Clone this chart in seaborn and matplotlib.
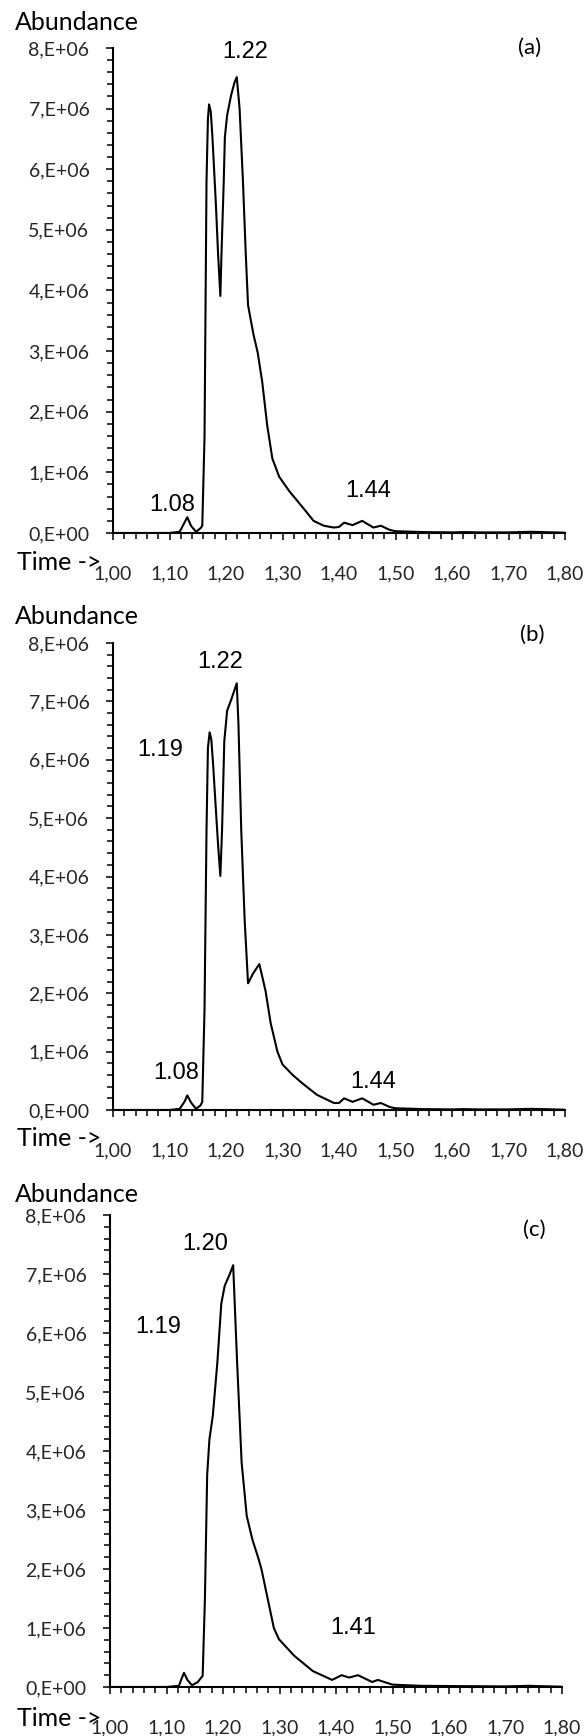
import matplotlib
matplotlib.use("Agg")
import matplotlib.pyplot as plt
import seaborn as sns
import numpy as np
import pandas as pd
from matplotlib.ticker import MultipleLocator, FixedLocator, FuncFormatter

# --- data (abundance in units of 1E6) ---
time_a = [1.00, 1.05, 1.10, 1.118, 1.127, 1.1315, 1.138, 1.147, 1.155, 1.158,
          1.162, 1.1655, 1.168, 1.170, 1.173, 1.176, 1.182, 1.186, 1.190, 1.192,
          1.196, 1.198, 1.202, 1.209, 1.215, 1.219, 1.224, 1.230, 1.235, 1.239,
          1.2485, 1.256, 1.264, 1.273, 1.282, 1.294, 1.312, 1.336, 1.355, 1.373,
          1.391, 1.400, 1.409, 1.424, 1.441, 1.461, 1.474, 1.490, 1.50, 1.55,
          1.60, 1.62, 1.65, 1.70, 1.74, 1.80]
abund_a = [0.0, 0.0, 0.0, 0.02, 0.18, 0.26, 0.12, 0.02, 0.08, 0.12,
           1.59, 5.80, 6.83, 7.07, 6.95, 6.53, 5.44, 4.60, 3.91, 4.60,
           5.80, 6.53, 6.89, 7.22, 7.43, 7.52, 7.01, 5.80, 4.60, 3.76,
           3.28, 2.98, 2.50, 1.77, 1.23, 0.93, 0.69, 0.42, 0.20, 0.12,
           0.09, 0.10, 0.17, 0.13, 0.20, 0.09, 0.12, 0.05, 0.03, 0.015,
           0.01, 0.015, 0.01, 0.01, 0.02, 0.005]

time_b = [1.00, 1.05, 1.10, 1.118, 1.127, 1.1315, 1.138, 1.147, 1.155, 1.158,
          1.162, 1.1655, 1.168, 1.171, 1.174, 1.177, 1.182, 1.186, 1.190, 1.193,
          1.197, 1.202, 1.210, 1.219, 1.222, 1.227, 1.233, 1.239, 1.248, 1.259,
          1.270, 1.279, 1.291, 1.300, 1.318, 1.336, 1.361, 1.391, 1.400, 1.409,
          1.424, 1.441, 1.461, 1.474, 1.490, 1.50, 1.55, 1.60, 1.62, 1.65,
          1.70, 1.74, 1.80]
abund_b = [0.0, 0.0, 0.0, 0.02, 0.15, 0.25, 0.13, 0.02, 0.08, 0.14,
           1.73, 4.79, 6.20, 6.47, 6.35, 5.95, 5.16, 4.54, 4.01, 4.79,
           6.32, 6.84, 7.05, 7.31, 6.62, 4.79, 3.26, 2.17, 2.34, 2.50,
           2.04, 1.49, 1.00, 0.78, 0.60, 0.45, 0.26, 0.12, 0.12, 0.20,
           0.14, 0.20, 0.09, 0.12, 0.05, 0.03, 0.015, 0.01, 0.015, 0.01,
           0.01, 0.02, 0.005]

time_c = [1.00, 1.05, 1.10, 1.122, 1.127, 1.131, 1.137, 1.145, 1.155, 1.164,
          1.168, 1.172, 1.176, 1.182, 1.190, 1.197, 1.203, 1.212, 1.218, 1.225,
          1.233, 1.242, 1.252, 1.262, 1.268, 1.279, 1.290, 1.299, 1.326, 1.359,
          1.393, 1.410, 1.423, 1.439, 1.464, 1.474, 1.50, 1.55, 1.62, 1.70,
          1.74, 1.80]
abund_c = [0.0, 0.0, 0.0, 0.02, 0.15, 0.24, 0.12, 0.03, 0.08, 0.19,
           1.50, 3.60, 4.20, 4.60, 5.50, 6.50, 6.80, 7.00, 7.15, 5.50,
           3.80, 2.90, 2.50, 2.20, 2.00, 1.50, 1.00, 0.81, 0.53, 0.27,
           0.12, 0.20, 0.16, 0.20, 0.085, 0.12, 0.04, 0.02, 0.015, 0.01,
           0.02, 0.005]

# peak labels: (text, time, abundance in 1E6)
labels_a = [("1.22", 1.234, 7.94), ("1.08", 1.104, 0.46), ("1.44", 1.452, 0.70)]
labels_b = [("1.22", 1.19, 7.67), ("1.19", 1.084, 6.16), ("1.08", 1.112, 0.63), ("1.44", 1.46, 0.48)]
labels_c = [("1.20", 1.168, 7.50), ("1.19", 1.086, 6.10), ("1.41", 1.43, 1.0)]

panel_tags = ["(a)", "(b)", "(c)"]
x_ticks = [1.00, 1.10, 1.20, 1.30, 1.40, 1.50, 1.60, 1.70, 1.80]
y_ticks = [0, 1, 2, 3, 4, 5, 6, 7, 8]

sns.set_style("ticks")
plt.rcParams['font.family'] = ['Lato', 'DejaVu Sans']

W, H = 584, 1736
fig = plt.figure(figsize=(W / 100, H / 100), dpi=100)

# axes boxes in pixels: left, right, top, bottom
boxes = [(113, 565, 48, 533), (113, 565, 643, 1110), (110, 562, 1215, 1687)]
abundance_y = [22, 617, 1195]
time_y = [562, 1138, 1718]
tag_pos = [(530, 48), (532, 635), (534, 1230)]

series = [(time_a, abund_a, labels_a), (time_b, abund_b, labels_b), (time_c, abund_c, labels_c)]

for i, ((t, a, labs), (l, r, top, bot)) in enumerate(zip(series, boxes)):
    ax = fig.add_axes([l / W, 1 - bot / H, (r - l) / W, (bot - top) / H])
    df = pd.DataFrame({"time": t, "abundance": np.array(a) * 1e6})
    sns.lineplot(data=df, x="time", y="abundance", ax=ax, color="black",
                 linewidth=1.5, sort=False)
    ax.set_xlim(1.0, 1.8)
    ax.set_ylim(0, 8e6)
    ax.xaxis.set_major_locator(FixedLocator(x_ticks))
    ax.xaxis.set_minor_locator(MultipleLocator(0.02))
    ax.yaxis.set_major_locator(FixedLocator([v * 1e6 for v in y_ticks]))
    ax.yaxis.set_minor_locator(MultipleLocator(2e5))
    ax.xaxis.set_major_formatter(FuncFormatter(lambda v, p: f"{v:.2f}".replace(".", ",")))
    ax.yaxis.set_major_formatter(FuncFormatter(
        lambda v, p: "0,E+00" if v == 0 else f"{int(round(v / 1e6))},E+06"))
    ax.tick_params(axis="both", which="both", direction="out", width=1.1,
                   color="black", labelsize=14)
    ax.tick_params(axis="both", which="major", length=5)
    ax.tick_params(axis="both", which="minor", length=4)
    ax.tick_params(axis="x", which="major", pad=18)
    ax.tick_params(axis="y", which="major", pad=12)
    for side in ["top", "right"]:
        ax.spines[side].set_visible(False)
    for side in ["left", "bottom"]:
        ax.spines[side].set_linewidth(1.5)
        ax.spines[side].set_color("black")
    ax.set_xlabel("")
    ax.set_ylabel("")
    ax.patch.set_alpha(0)

    for txt, tx, ty in labs:
        ax.text(tx, ty * 1e6, txt, ha="center", va="center", fontsize=17,
                family="Liberation Sans", color="black")

    fig.text(15 / W, 1 - abundance_y[i] / H, "Abundance", ha="left", va="center",
             fontsize=18, color="black")
    fig.text(17 / W, 1 - time_y[i] / H, "Time ->", ha="left", va="center",
             fontsize=18, color="black")
    fig.text(tag_pos[i][0] / W, 1 - tag_pos[i][1] / H, panel_tags[i], ha="center",
             va="center", fontsize=16, color="black")

fig.savefig("out.png", dpi=100, facecolor="white")
